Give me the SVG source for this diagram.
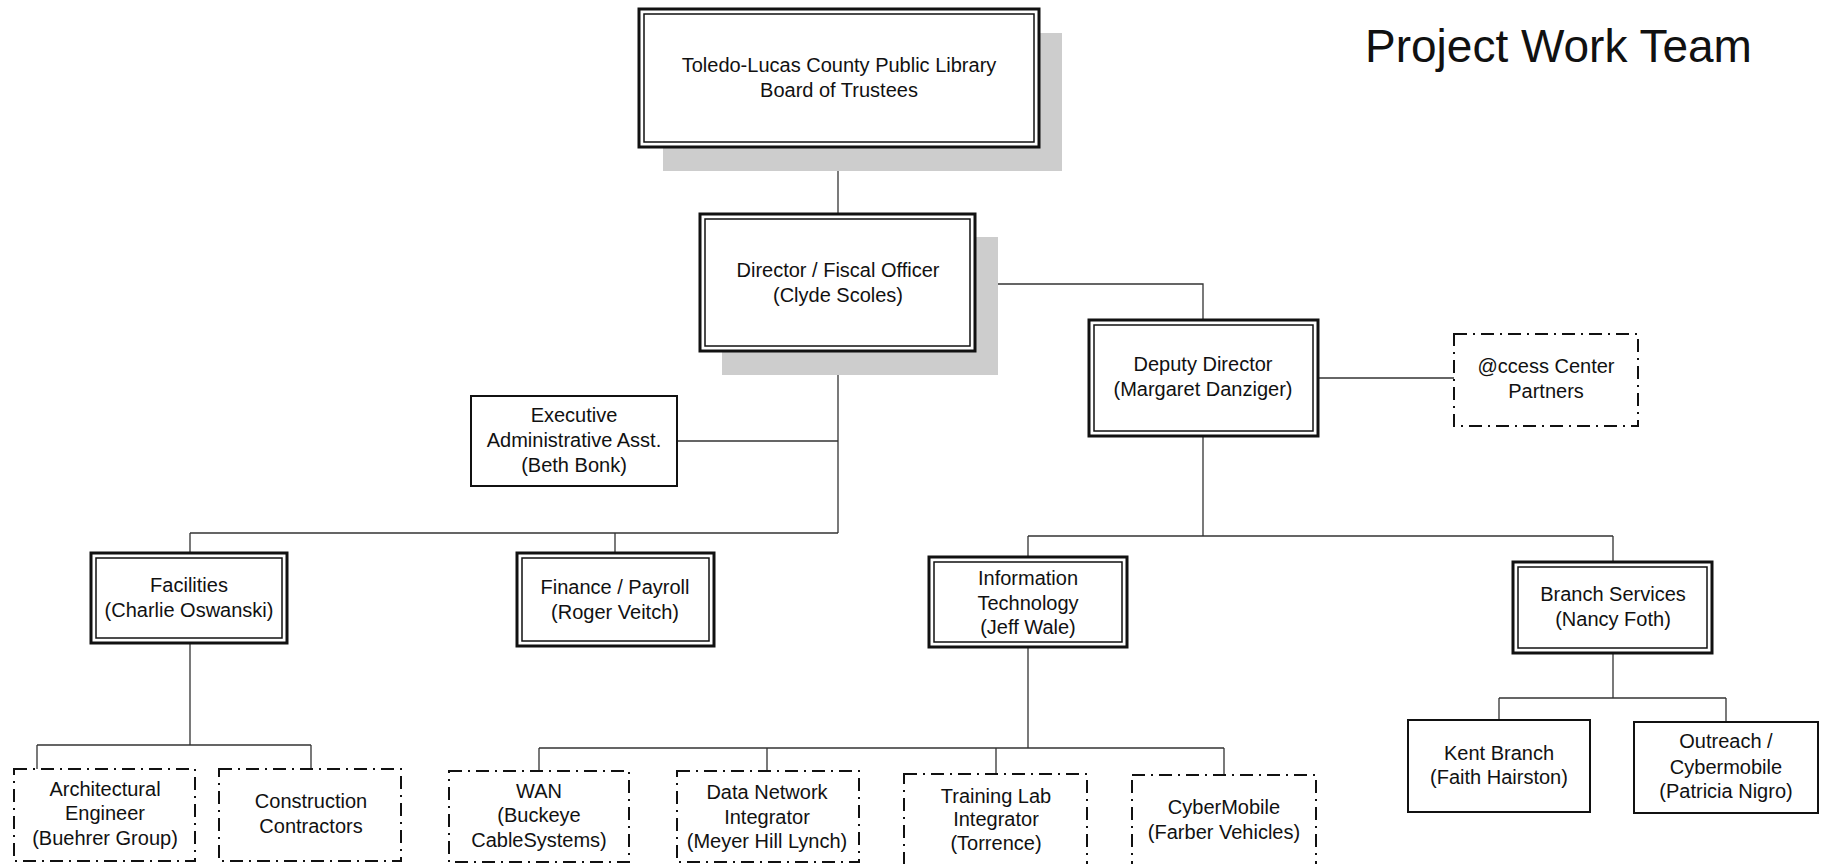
<svg xmlns="http://www.w3.org/2000/svg" width="1824" height="864" viewBox="0 0 1824 864">
<style>
.t{font-family:"Liberation Sans",Arial,sans-serif;font-size:20px;fill:#111;text-anchor:middle}
.title{font-family:"Liberation Sans",Arial,sans-serif;font-size:46px;fill:#111}
.o{fill:#fff;stroke:#111;stroke-width:3}
.i{fill:none;stroke:#111;stroke-width:1.5}
.s{fill:#fff;stroke:#111;stroke-width:2}
.d{fill:#fff;stroke:#111;stroke-width:2;stroke-dasharray:13 6 2 6}
.sh{fill:#cdcdcd}
.c{fill:none;stroke:#333;stroke-width:1.3}
</style>
<rect width="1824" height="864" fill="#fff"/>
<text class="title" x="1365" y="62">Project Work Team</text>
<g id="connectors">
<path class="c" d="M838 147V214"/>
<path class="c" d="M975 284H1203V320"/>
<path class="c" d="M1318 378H1454"/>
<path class="c" d="M838 351V533M677 441H838M190 533H838M190 533V553M615 533V553"/>
<path class="c" d="M1203 436V536M1028 536H1613M1028 536V557M1613 536V562"/>
<path class="c" d="M190 643V745M37 745H311M37 745V769M311 745V769"/>
<path class="c" d="M1028 647V748M539 748H1224M539 748V771M767 748V771M996 748V774M1224 748V775"/>
<path class="c" d="M1613 653V698M1499 698H1726M1499 698V720M1726 698V722"/>
</g>
<g id="board">
<rect class="sh" x="663" y="33" width="399" height="138"/>
<rect class="o" x="639" y="9" width="400" height="138"/>
<rect class="i" x="644" y="14" width="390" height="128"/>
<text class="t" x="839" y="72">Toledo-Lucas County Public Library</text>
<text class="t" x="839" y="97">Board of Trustees</text>
</g>
<g id="director">
<rect class="sh" x="722" y="237" width="276" height="138"/>
<rect class="o" x="700" y="214" width="275" height="137"/>
<rect class="i" x="705" y="219" width="265" height="127"/>
<text class="t" x="838" y="277">Director / Fiscal Officer</text>
<text class="t" x="838" y="302">(Clyde Scoles)</text>
</g>
<g id="deputy">
<rect class="o" x="1089" y="320" width="229" height="116"/>
<rect class="i" x="1094" y="325" width="219" height="106"/>
<text class="t" x="1203" y="371">Deputy Director</text>
<text class="t" x="1203" y="396">(Margaret Danziger)</text>
</g>
<g id="access">
<rect class="d" x="1454" y="334" width="184" height="92"/>
<text class="t" x="1546" y="373">@ccess Center</text>
<text class="t" x="1546" y="398">Partners</text>
</g>
<g id="exec">
<rect class="s" x="471" y="396" width="206" height="90"/>
<text class="t" x="574" y="422">Executive</text>
<text class="t" x="574" y="447">Administrative Asst.</text>
<text class="t" x="574" y="472">(Beth Bonk)</text>
</g>
<g id="facilities">
<rect class="o" x="91" y="553" width="196" height="90"/>
<rect class="i" x="96" y="558" width="186" height="80"/>
<text class="t" x="189" y="592">Facilities</text>
<text class="t" x="189" y="617">(Charlie Oswanski)</text>
</g>
<g id="finance">
<rect class="o" x="517" y="553" width="197" height="93"/>
<rect class="i" x="522" y="558" width="187" height="83"/>
<text class="t" x="615" y="594">Finance / Payroll</text>
<text class="t" x="615" y="619">(Roger Veitch)</text>
</g>
<g id="it">
<rect class="o" x="929" y="557" width="198" height="90"/>
<rect class="i" x="934" y="562" width="188" height="80"/>
<text class="t" x="1028" y="585">Information</text>
<text class="t" x="1028" y="610">Technology</text>
<text class="t" x="1028" y="634">(Jeff Wale)</text>
</g>
<g id="branch">
<rect class="o" x="1513" y="562" width="199" height="91"/>
<rect class="i" x="1518" y="567" width="189" height="81"/>
<text class="t" x="1613" y="601">Branch Services</text>
<text class="t" x="1613" y="626">(Nancy Foth)</text>
</g>
<g id="arch">
<rect class="d" x="14" y="769" width="181" height="92"/>
<text class="t" x="105" y="796">Architectural</text>
<text class="t" x="105" y="820">Engineer</text>
<text class="t" x="105" y="845">(Buehrer Group)</text>
</g>
<g id="construction">
<rect class="d" x="219" y="769" width="182" height="92"/>
<text class="t" x="311" y="808">Construction</text>
<text class="t" x="311" y="833">Contractors</text>
</g>
<g id="wan">
<rect class="d" x="449" y="771" width="180" height="91"/>
<text class="t" x="539" y="798">WAN</text>
<text class="t" x="539" y="822">(Buckeye</text>
<text class="t" x="539" y="847">CableSystems)</text>
</g>
<g id="datanet">
<rect class="d" x="677" y="771" width="182" height="91"/>
<text class="t" x="767" y="799">Data Network</text>
<text class="t" x="767" y="824">Integrator</text>
<text class="t" x="767" y="848">(Meyer Hill Lynch)</text>
</g>
<g id="training">
<rect class="d" x="904" y="774" width="183" height="92"/>
<text class="t" x="996" y="803">Training Lab</text>
<text class="t" x="996" y="826">Integrator</text>
<text class="t" x="996" y="850">(Torrence)</text>
</g>
<g id="cybermobile">
<rect class="d" x="1132" y="775" width="184" height="95"/>
<text class="t" x="1224" y="814">CyberMobile</text>
<text class="t" x="1224" y="839">(Farber Vehicles)</text>
</g>
<g id="kent">
<rect class="s" x="1408" y="720" width="182" height="92"/>
<text class="t" x="1499" y="760">Kent Branch</text>
<text class="t" x="1499" y="784">(Faith Hairston)</text>
</g>
<g id="outreach">
<rect class="s" x="1634" y="722" width="184" height="91"/>
<text class="t" x="1726" y="748">Outreach /</text>
<text class="t" x="1726" y="774">Cybermobile</text>
<text class="t" x="1726" y="798">(Patricia Nigro)</text>
</g>
</svg>
